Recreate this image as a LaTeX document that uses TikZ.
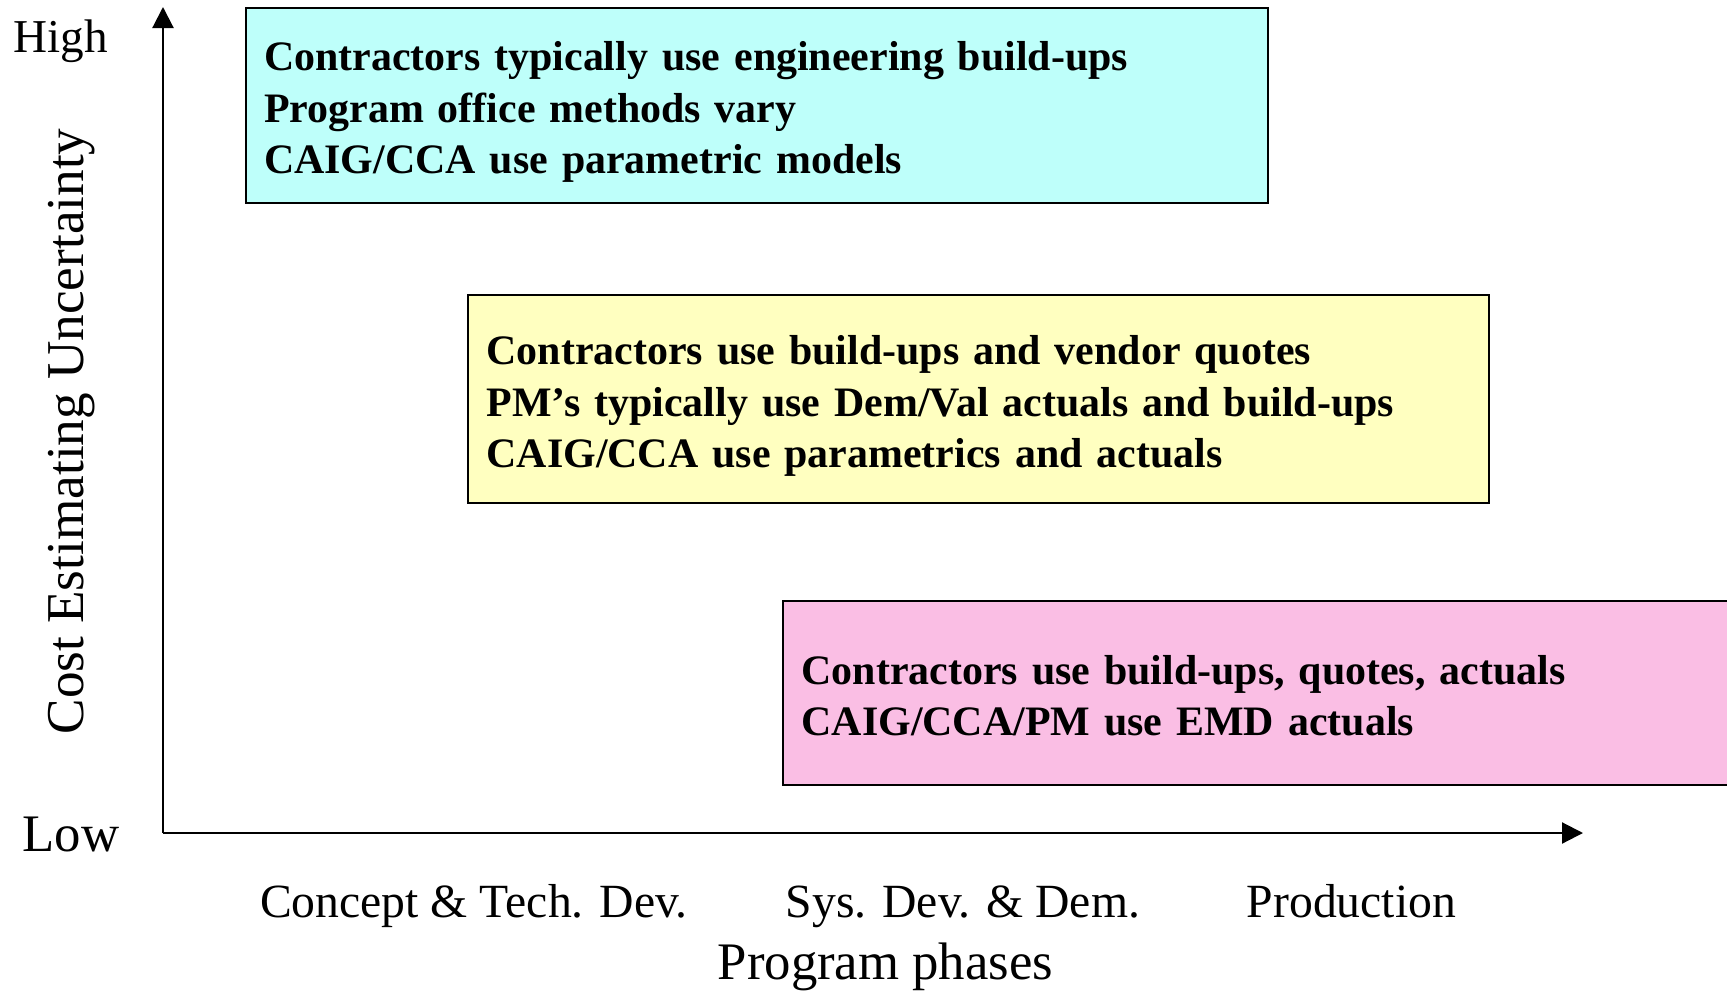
\documentclass[tikz,border=0pt]{standalone}
\usepackage{fontspec}
\setmainfont{Liberation Serif}
\usetikzlibrary{
	arrows.meta
}
\definecolor{boxCyan}{RGB}{190,255,250}
\definecolor{boxYellow}{RGB}{255,255,192}
\definecolor{boxPink}{RGB}{250,190,228}
\tikzset{every path/.append style={line width=0.6pt}}
\tikzset{every path/.append style={>={Triangle[length=0.21cm,width=0.21cm]}}}
\tikzset{
	methods/.style={draw,anchor=north west,align=left,inner xsep=0.185cm,inner ysep=0pt,
		font=\bfseries\fontsize{11.92}{14.7}\selectfont,
		execute at begin node={\rule{0pt}{0.43cm}},
		execute at end node={\rule[-0.09cm]{0pt}{0pt}}},
	phase/.style={anchor=base,font=\fontsize{13.55}{16}\selectfont}
}
\newcommand{\tikzPhase}[4][]{\node (#3) at #2 [phase,#1]{#4};}

\begin{document}
\begin{tikzpicture}[x=0.01cm,y=-0.01cm]
				\useasboundingbox (0,0) rectangle (1727,991);
				
				\coordinate (origin) at (163,833);
				\coordinate (ytip) at (163,7);
				\coordinate (xtip) at (1583,833);
				\draw[->] (origin) -- (ytip);
				\draw[->] (origin) -- (xtip);
				
				\node (high) at (61,53) [phase,font=\fontsize{13.4}{16}\selectfont] {High};
				\node (low) at (71,851) [phase,font=\fontsize{15}{18}\selectfont] {Low};
				\node (yname) at (83,431.5) [phase,rotate=90,font=\fontsize{15.13}{18}\selectfont] {Cost Estimating Uncertainty};
				
				\node (early) at (244.5,6.6) [methods,fill=boxCyan,text width=9.85cm,minimum height=1.95cm]
					{Contractors typically use engineering build-ups\\Program office methods vary\\CAIG/CCA use parametric models};
				\node (middle) at (467,294) [methods,fill=boxYellow,text width=9.83cm,minimum height=2.08cm]
					{Contractors use build-ups and vendor quotes\\PM’s typically use Dem/Val actuals and build-ups\\CAIG/CCA use parametrics and actuals};
				\node (late) at (782,600) [methods,fill=boxPink,text width=9.81cm,minimum height=1.84cm]
					{Contractors use build-ups, quotes, actuals\\CAIG/CCA/PM use EMD actuals};
				
				\tikzPhase{(474,917)}{concept}{Concept \& Tech. Dev.}
				\tikzPhase{(963,917)}{sysdev}{Sys. Dev. \& Dem.}
				\tikzPhase{(1351.5,917)}{production}{Production}
				\node (xname) at (885.5,979) [phase,font=\fontsize{15}{18}\selectfont] {Program phases};
			\end{tikzpicture}
\end{document}
